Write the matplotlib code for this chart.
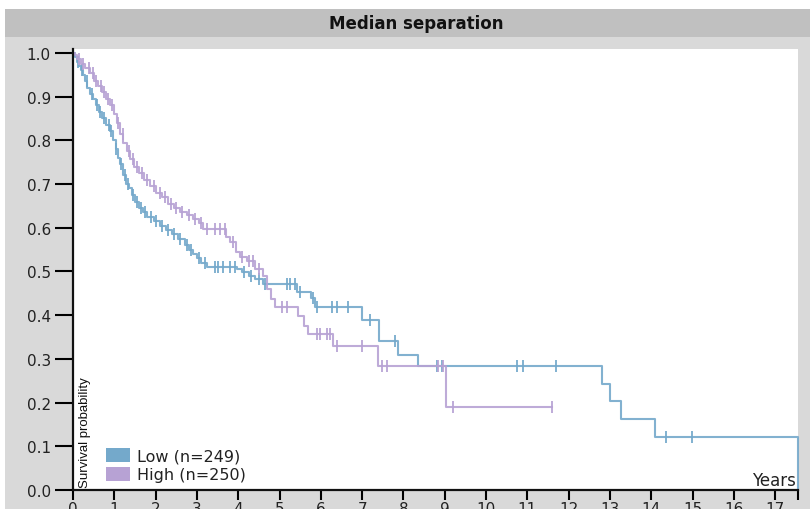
import numpy as np
import matplotlib
matplotlib.use("Agg")
import matplotlib.pyplot as plt
from matplotlib.patches import Patch, Rectangle

# Kaplan-Meier steps (time in years, survival after the drop)
low_t = [0, 0.05, 0.1, 0.15, 0.2, 0.25, 0.3, 0.35, 0.42, 0.48, 0.55, 0.62, 0.7, 0.8,
         0.9, 0.97, 1.03, 1.08, 1.13, 1.2, 1.28, 1.35, 1.42, 1.5, 1.6, 1.7, 1.8, 1.95,
         2.1, 2.25, 2.4, 2.55, 2.7, 2.8, 2.9, 3.0, 3.1, 3.25, 3.97, 4.1, 4.25, 4.4, 4.6,
         5.42, 5.75, 5.85, 7.0, 7.4, 7.87, 8.35, 12.8, 13.0, 13.27, 14.09, 17.55]
low_s = [1.0, 0.99, 0.98, 0.97, 0.96, 0.95, 0.935, 0.92, 0.905, 0.895, 0.88, 0.865, 0.85, 0.835,
         0.822, 0.80, 0.78, 0.76, 0.745, 0.72, 0.70, 0.69, 0.675, 0.66, 0.645, 0.635, 0.625, 0.615,
         0.605, 0.595, 0.585, 0.575, 0.56, 0.55, 0.54, 0.53, 0.52, 0.51, 0.505, 0.499, 0.49, 0.483, 0.471,
         0.453, 0.44, 0.419, 0.39, 0.34, 0.31, 0.284, 0.243, 0.203, 0.162, 0.121, 0.0]
low_cens = [0.12, 0.22, 0.33, 0.45, 0.58, 0.66, 0.75, 0.86, 0.93, 1.05, 1.17, 1.25, 1.32,
            1.45, 1.55, 1.65, 1.75, 1.88, 2.02, 2.15, 2.3, 2.45, 2.6, 2.75, 2.85, 3.05, 3.2,
            3.44, 3.51, 3.63, 3.8, 3.92, 4.15, 4.3, 4.5, 4.65, 5.18, 5.25, 5.37, 5.5, 5.8,
            5.9, 6.27, 6.39, 6.66, 7.19, 7.8, 8.81, 8.93, 10.75, 10.9, 11.7, 14.36, 14.99]

high_t = [0, 0.05, 0.1, 0.2, 0.3, 0.4, 0.5, 0.6, 0.7, 0.8, 0.9, 1.0, 1.07, 1.14, 1.22,
          1.3, 1.38, 1.48, 1.6, 1.72, 1.86, 2.0, 2.15, 2.3, 2.45, 2.6, 2.75, 2.9, 3.05,
          3.15, 3.7, 3.8, 3.95, 4.05, 4.2, 4.4, 4.6, 4.7, 4.8, 4.9, 5.45, 5.6, 5.7, 6.3,
          7.38, 9.02, 11.6]
high_s = [1.0, 0.995, 0.985, 0.975, 0.965, 0.955, 0.935, 0.925, 0.91, 0.895, 0.88, 0.86, 0.84,
          0.815, 0.795, 0.775, 0.757, 0.74, 0.725, 0.71, 0.695, 0.68, 0.67, 0.655, 0.645, 0.635,
          0.63, 0.62, 0.61, 0.597, 0.579, 0.567, 0.545, 0.533, 0.524, 0.506, 0.49, 0.46, 0.437,
          0.418, 0.398, 0.375, 0.357, 0.33, 0.284, 0.19, 0.19]
high_cens = [0.15, 0.25, 0.38, 0.48, 0.55, 0.68, 0.76, 0.85, 0.95, 1.1, 1.2, 1.35, 1.45,
             1.55, 1.68, 1.8, 1.95, 2.1, 2.22, 2.38, 2.5, 2.65, 2.8, 2.95, 3.1, 3.25, 3.44,
             3.56, 3.68, 3.88, 4.1, 4.25, 4.35, 4.5, 5.06, 5.18, 5.9, 5.98, 6.15, 6.22, 6.39,
             7.0, 7.48, 7.6, 8.84, 8.96, 9.2, 11.6]

labels = ["Low (n=249)", "High (n=250)"]
colors = ["#74a9cb", "#b7a2d4"]

fig = plt.figure(figsize=(8.1, 5.1), dpi=100, facecolor="white")
# grey panel + darker title band
fig.patches.append(Rectangle((5 / 810, 0), 1, 500 / 510, transform=fig.transFigure,
                             facecolor="#d9d9d9", edgecolor="none", zorder=-2))
fig.patches.append(Rectangle((5 / 810, 472 / 510), 1, 28 / 510, transform=fig.transFigure,
                             facecolor="#c0c0c0", edgecolor="none", zorder=-1))
fig.text(0.514, 0.953, "Median separation", ha="center", va="center",
         fontsize=12, fontweight="bold", color="#111111")

ax = fig.add_axes([73 / 810, 19 / 510, 725 / 810, 441 / 510])
ax.set_facecolor("white")


def step_value(ts, ss, x):
    i = np.searchsorted(ts, x, side="right") - 1
    return ss[i]


for ts, ss, cens, c in [(low_t, low_s, low_cens, colors[0]), (high_t, high_s, high_cens, colors[1])]:
    ax.step(ts, ss, where="post", color=c, lw=1.5, alpha=0.9, clip_on=False)
    cy = [step_value(ts, ss, x) for x in cens]
    ax.plot(cens, cy, ls="none", marker="|", ms=9, mew=1.4, color=c, alpha=0.9, clip_on=False)

ax.set_xlim(0, 17.55)
ax.set_ylim(0, 1.009)
ax.set_xticks(range(0, 18))
ax.set_xticks([17.55], minor=True)
ax.set_yticks([i / 10 for i in range(11)])
ax.set_yticklabels([f"{i / 10:.1f}" for i in range(11)])

for s in ["top", "right"]:
    ax.spines[s].set_visible(False)
for s in ["left", "bottom"]:
    ax.spines[s].set_linewidth(1.6)
    ax.spines[s].set_color("#111111")

ax.tick_params(axis="x", which="both", length=7, width=1.5, pad=1, labelsize=11,
               labelcolor="#222222")
ax.tick_params(axis="y", length=13, width=1.5, pad=3, labelsize=11, labelcolor="#222222")

ax.text(0.008, 0.006, "Survival probability", rotation=90, transform=ax.transAxes,
        ha="left", va="bottom", fontsize=9.5, family="Liberation Sans", color="#111111")
ax.text(0.997, 0.003, "Years", transform=ax.transAxes, ha="right", va="bottom",
        fontsize=12, color="#222222")

handles = [Patch(facecolor=c, edgecolor="none") for c in colors]
ax.legend(handles, labels, loc="lower left", bbox_to_anchor=(0.03, -0.008), frameon=False,
          fontsize=11.5, handlelength=1.5, handleheight=0.95, handletextpad=0.45,
          labelspacing=0.2, borderpad=0.2, labelcolor="#222222")

fig.savefig("out.png", dpi=100, facecolor=fig.get_facecolor())
